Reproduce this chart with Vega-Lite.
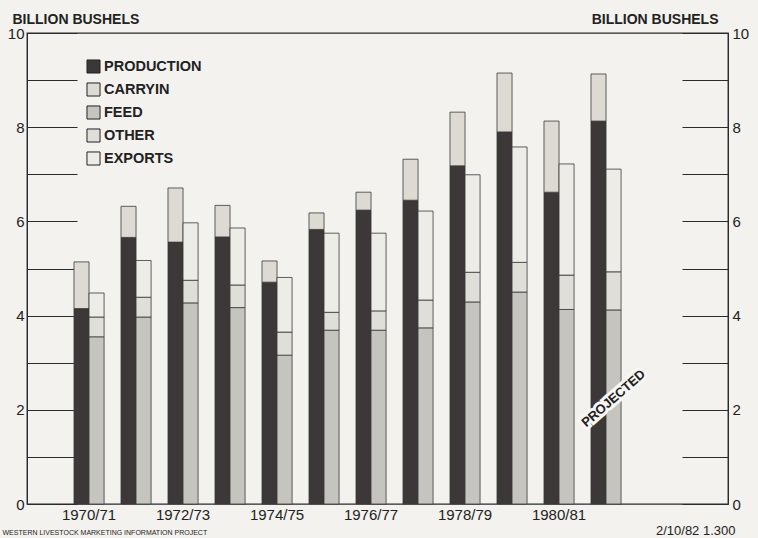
{
  "$schema": "https://vega.github.io/schema/vega-lite/v6.json",
  "width": 701,
  "height": 471,
  "autosize": "none",
  "padding": {"left": 27, "top": 33, "right": 30, "bottom": 34},
  "background": "#f3f2ee",
  "config": {
    "font": "Liberation Sans",
    "view": {"stroke": "#2b2b2b", "strokeWidth": 1.3},
    "axis": {"labelColor": "#222", "titleColor": "#222", "domainColor": "#2b2b2b", "tickColor": "#2b2b2b"}
  },
  "datasets": {
    "corn": [
      {"year": "1970/71", "bar": "supply", "component": "PRODUCTION", "low": 0, "high": 4.15},
      {"year": "1970/71", "bar": "supply", "component": "CARRYIN", "low": 4.15, "high": 5.14},
      {"year": "1970/71", "bar": "use", "component": "FEED", "low": 0, "high": 3.55},
      {"year": "1970/71", "bar": "use", "component": "OTHER", "low": 3.55, "high": 3.97},
      {"year": "1970/71", "bar": "use", "component": "EXPORTS", "low": 3.97, "high": 4.48},
      {"year": "1971/72", "bar": "supply", "component": "PRODUCTION", "low": 0, "high": 5.66},
      {"year": "1971/72", "bar": "supply", "component": "CARRYIN", "low": 5.66, "high": 6.32},
      {"year": "1971/72", "bar": "use", "component": "FEED", "low": 0, "high": 3.97},
      {"year": "1971/72", "bar": "use", "component": "OTHER", "low": 3.97, "high": 4.39},
      {"year": "1971/72", "bar": "use", "component": "EXPORTS", "low": 4.39, "high": 5.17},
      {"year": "1972/73", "bar": "supply", "component": "PRODUCTION", "low": 0, "high": 5.56},
      {"year": "1972/73", "bar": "supply", "component": "CARRYIN", "low": 5.56, "high": 6.71},
      {"year": "1972/73", "bar": "use", "component": "FEED", "low": 0, "high": 4.27},
      {"year": "1972/73", "bar": "use", "component": "OTHER", "low": 4.27, "high": 4.75},
      {"year": "1972/73", "bar": "use", "component": "EXPORTS", "low": 4.75, "high": 5.97},
      {"year": "1973/74", "bar": "supply", "component": "PRODUCTION", "low": 0, "high": 5.67},
      {"year": "1973/74", "bar": "supply", "component": "CARRYIN", "low": 5.67, "high": 6.34},
      {"year": "1973/74", "bar": "use", "component": "FEED", "low": 0, "high": 4.17},
      {"year": "1973/74", "bar": "use", "component": "OTHER", "low": 4.17, "high": 4.65},
      {"year": "1973/74", "bar": "use", "component": "EXPORTS", "low": 4.65, "high": 5.86},
      {"year": "1974/75", "bar": "supply", "component": "PRODUCTION", "low": 0, "high": 4.71},
      {"year": "1974/75", "bar": "supply", "component": "CARRYIN", "low": 4.71, "high": 5.16},
      {"year": "1974/75", "bar": "use", "component": "FEED", "low": 0, "high": 3.16},
      {"year": "1974/75", "bar": "use", "component": "OTHER", "low": 3.16, "high": 3.65},
      {"year": "1974/75", "bar": "use", "component": "EXPORTS", "low": 3.65, "high": 4.81},
      {"year": "1975/76", "bar": "supply", "component": "PRODUCTION", "low": 0, "high": 5.83},
      {"year": "1975/76", "bar": "supply", "component": "CARRYIN", "low": 5.83, "high": 6.18},
      {"year": "1975/76", "bar": "use", "component": "FEED", "low": 0, "high": 3.69},
      {"year": "1975/76", "bar": "use", "component": "OTHER", "low": 3.69, "high": 4.07},
      {"year": "1975/76", "bar": "use", "component": "EXPORTS", "low": 4.07, "high": 5.75},
      {"year": "1976/77", "bar": "supply", "component": "PRODUCTION", "low": 0, "high": 6.24},
      {"year": "1976/77", "bar": "supply", "component": "CARRYIN", "low": 6.24, "high": 6.62},
      {"year": "1976/77", "bar": "use", "component": "FEED", "low": 0, "high": 3.69},
      {"year": "1976/77", "bar": "use", "component": "OTHER", "low": 3.69, "high": 4.10},
      {"year": "1976/77", "bar": "use", "component": "EXPORTS", "low": 4.10, "high": 5.75},
      {"year": "1977/78", "bar": "supply", "component": "PRODUCTION", "low": 0, "high": 6.45},
      {"year": "1977/78", "bar": "supply", "component": "CARRYIN", "low": 6.45, "high": 7.32},
      {"year": "1977/78", "bar": "use", "component": "FEED", "low": 0, "high": 3.74},
      {"year": "1977/78", "bar": "use", "component": "OTHER", "low": 3.74, "high": 4.33},
      {"year": "1977/78", "bar": "use", "component": "EXPORTS", "low": 4.33, "high": 6.22},
      {"year": "1978/79", "bar": "supply", "component": "PRODUCTION", "low": 0, "high": 7.18},
      {"year": "1978/79", "bar": "supply", "component": "CARRYIN", "low": 7.18, "high": 8.32},
      {"year": "1978/79", "bar": "use", "component": "FEED", "low": 0, "high": 4.29},
      {"year": "1978/79", "bar": "use", "component": "OTHER", "low": 4.29, "high": 4.92},
      {"year": "1978/79", "bar": "use", "component": "EXPORTS", "low": 4.92, "high": 6.99},
      {"year": "1979/80", "bar": "supply", "component": "PRODUCTION", "low": 0, "high": 7.90},
      {"year": "1979/80", "bar": "supply", "component": "CARRYIN", "low": 7.90, "high": 9.15},
      {"year": "1979/80", "bar": "use", "component": "FEED", "low": 0, "high": 4.50},
      {"year": "1979/80", "bar": "use", "component": "OTHER", "low": 4.50, "high": 5.13},
      {"year": "1979/80", "bar": "use", "component": "EXPORTS", "low": 5.13, "high": 7.58},
      {"year": "1980/81", "bar": "supply", "component": "PRODUCTION", "low": 0, "high": 6.62},
      {"year": "1980/81", "bar": "supply", "component": "CARRYIN", "low": 6.62, "high": 8.13},
      {"year": "1980/81", "bar": "use", "component": "FEED", "low": 0, "high": 4.13},
      {"year": "1980/81", "bar": "use", "component": "OTHER", "low": 4.13, "high": 4.86},
      {"year": "1980/81", "bar": "use", "component": "EXPORTS", "low": 4.86, "high": 7.22},
      {"year": "1981/82", "bar": "supply", "component": "PRODUCTION", "low": 0, "high": 8.13},
      {"year": "1981/82", "bar": "supply", "component": "CARRYIN", "low": 8.13, "high": 9.13},
      {"year": "1981/82", "bar": "use", "component": "FEED", "low": 0, "high": 4.12},
      {"year": "1981/82", "bar": "use", "component": "OTHER", "low": 4.12, "high": 4.93},
      {"year": "1981/82", "bar": "use", "component": "EXPORTS", "low": 4.93, "high": 7.11}
    ],
    "note": [
      {"year": "1981/82", "bar": "use", "label": "PROJECTED", "value": 2.24}
    ]
  },
  "resolve": {"scale": {"x": "shared", "y": "shared"}, "axis": {"x": "independent", "y": "independent"}},
  "layer": [
    {
      "data": {"name": "corn"},
      "mark": {"type": "bar", "stroke": "#3a3a3a", "strokeWidth": 0.8},
      "encoding": {
        "x": {
          "field": "year", "type": "nominal",
          "scale": {"type": "band", "domain": [" ", "1970/71","1971/72","1972/73","1973/74","1974/75","1975/76","1976/77","1977/78","1978/79","1979/80","1980/81","1981/82", "  ", "   "], "paddingInner": 0.36, "paddingOuter": 0.1375, "align": 0},
          "axis": {
            "orient": "bottom", "domain": false, "ticks": false, "grid": false,
            "labelAngle": 0, "labelFontSize": 15, "labelPadding": 3, "labelOverlap": false,
            "labelExpr": "indexof(['1970/71','1972/73','1974/75','1976/77','1978/79','1980/81'], datum.label) >= 0 ? datum.label : ''",
            "title": "WESTERN LIVESTOCK MARKETING INFORMATION PROJECT",
            "titleFontSize": 7, "titleFontWeight": "normal", "titleAlign": "left", "titleAnchor": "start",
            "titleX": -25, "titleY": 30, "titleBaseline": "alphabetic"
          }
        },
        "xOffset": {"field": "bar", "type": "nominal", "scale": {"domain": ["supply", "use"], "paddingInner": 0, "paddingOuter": 0}},
        "y": {
          "field": "low", "type": "quantitative",
          "scale": {"domain": [0, 10], "nice": false},
          "axis": {
            "orient": "left", "values": [0,1,2,3,4,5,6,7,8,9,10], "grid": false,
            "tickSize": -50, "tickWidth": 1.2, "labelPadding": 53, "labelFontSize": 15, "labelOverlap": false,
            "labelExpr": "datum.value % 2 === 0 ? datum.label : ''",
            "title": "BILLION BUSHELS", "titleAngle": 0, "titleAlign": "left", "titleBaseline": "alphabetic",
            "titleX": -15, "titleY": -10, "titleFontSize": 14, "titleFontWeight": "bold"
          }
        },
        "y2": {"field": "high"},
        "color": {
          "field": "component", "type": "nominal",
          "scale": {"domain": ["PRODUCTION","CARRYIN","FEED","OTHER","EXPORTS"], "range": ["#3c3837","#dcdad3","#c6c4bf","#e0ded8","#eeece7"]},
          "legend": {
            "orient": "none", "legendX": 59, "legendY": 26, "title": null,
            "symbolType": "square", "symbolSize": 170, "symbolStrokeColor": "#222", "symbolStrokeWidth": 1,
            "labelFontSize": 14.5, "labelFontWeight": "bold", "labelColor": "#222", "labelOffset": 3, "rowPadding": 4
          }
        }
      }
    },
    {
      "data": {"name": "note"},
      "mark": {"type": "text", "angle": -41, "fontSize": 13, "fontWeight": "bold", "align": "center", "baseline": "middle", "stroke": "#f7f6f2", "strokeWidth": 6, "fill": "#f7f6f2"},
      "encoding": {
        "x": {
          "field": "year", "type": "nominal",
          "axis": {
            "orient": "bottom", "labels": false, "ticks": false, "domain": false, "grid": false,
            "title": "2/10/82   1.300", "titleFontSize": 13, "titleFontWeight": "normal",
            "titleAlign": "right", "titleX": 708, "titleY": 30, "titleBaseline": "alphabetic"
          }
        },
        "xOffset": {"field": "bar", "type": "nominal"},
        "y": {
          "field": "value", "type": "quantitative",
          "axis": {
            "orient": "right", "values": [0,1,2,3,4,5,6,7,8,9,10], "grid": false,
            "tickSize": -46, "tickWidth": 1.2, "labelPadding": 50, "labelFontSize": 15, "labelOverlap": false,
            "labelExpr": "datum.value % 2 === 0 ? datum.label : ''",
            "title": "BILLION BUSHELS", "titleAngle": 0, "titleAlign": "right", "titleBaseline": "alphabetic",
            "titleX": -10, "titleY": -10, "titleFontSize": 14, "titleFontWeight": "bold"
          }
        },
        "text": {"field": "label"}
      }
    },
    {
      "data": {"name": "note"},
      "mark": {"type": "text", "angle": -41, "fontSize": 13, "fontWeight": "bold", "align": "center", "baseline": "middle", "fill": "#222"},
      "encoding": {
        "x": {"field": "year", "type": "nominal", "axis": null},
        "xOffset": {"field": "bar", "type": "nominal"},
        "y": {"field": "value", "type": "quantitative", "axis": null},
        "text": {"field": "label"}
      }
    }
  ]
}
